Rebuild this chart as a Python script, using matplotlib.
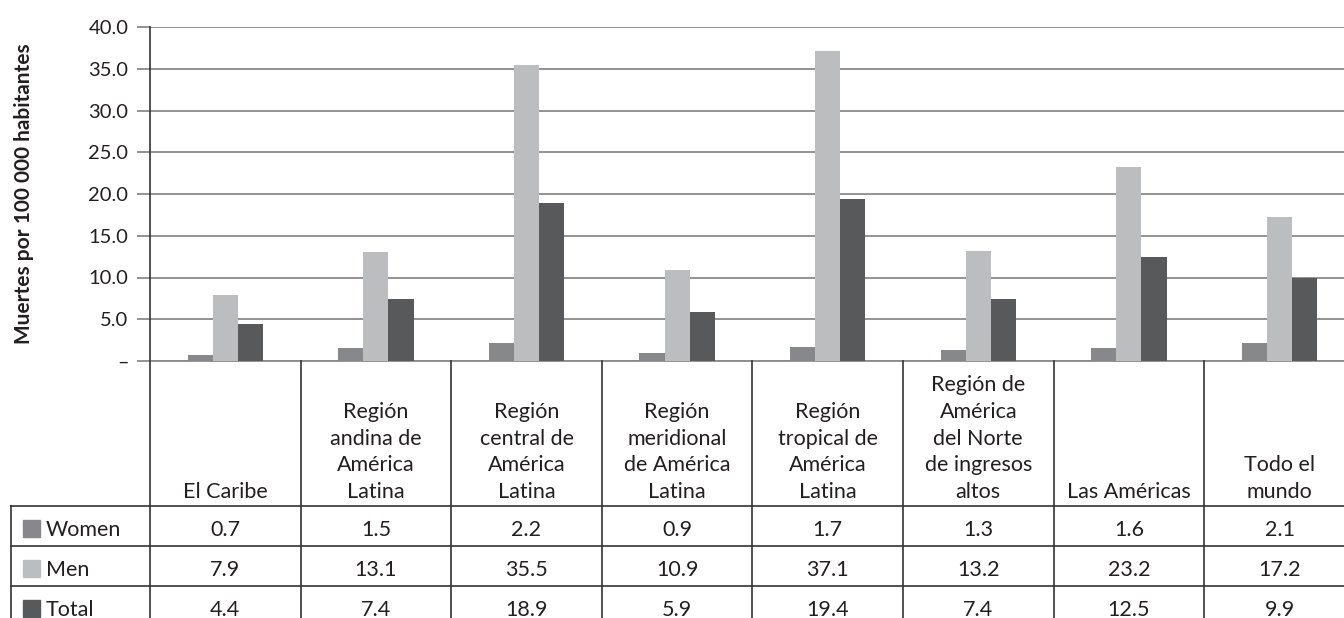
import numpy as np
import matplotlib
matplotlib.use('Agg')
import matplotlib.pyplot as plt
from matplotlib.patches import Rectangle

plt.rcParams['font.family'] = ['Lato', 'DejaVu Sans']

# data
regions = ['El Caribe',
           'Región\nandina de\nAmérica\nLatina',
           'Región\ncentral de\nAmérica\nLatina',
           'Región\nmeridional\nde América\nLatina',
           'Región\ntropical de\nAmérica\nLatina',
           'Región de\nAmérica\ndel Norte\nde ingresos\naltos',
           'Las Américas',
           'Todo el\nmundo']
series = ['Women', 'Men', 'Total']
women = [0.7, 1.5, 2.2, 0.9, 1.7, 1.3, 1.6, 2.1]
men = [7.9, 13.1, 35.5, 10.9, 37.1, 13.2, 23.2, 17.2]
total = [4.4, 7.4, 18.9, 5.9, 19.4, 7.4, 12.5, 9.9]
yticks = [0, 5, 10, 15, 20, 25, 30, 35, 40]

colors = ['#87888c', '#bcbdbf', '#58595b']
TXT = '#231f20'
W, H = 1344, 618
COLW = 150.6       # pixel width of one category column
X0 = 150           # pixel x of y axis
Y0 = 361           # pixel y of zero line
YTOP = 27
FS = 15.5

fig = plt.figure(figsize=(W / 100, H / 100), dpi=100)
ax = fig.add_axes([X0 / W, (H - Y0) / H, (W - X0) / W, (Y0 - YTOP) / H])
xmax = (W - X0) / COLW
ax.set_xlim(0, xmax)
ax.set_ylim(0, 40)

x = np.arange(len(regions)) + 0.5
bw = 1 / 6
for k, vals in enumerate([women, men, total]):
    ax.bar(x + (k - 1) * bw, vals, width=bw, color=colors[k], zorder=3)

ax.set_yticks(yticks)
ax.set_yticklabels(['–' if v == 0 else '%.1f' % v for v in yticks],
                   fontsize=14.5, color=TXT)
ax.yaxis.grid(True, color='#8a8a8a', lw=1.3, zorder=0)
ax.tick_params(axis='y', length=9.5, width=1.3, color='#8a8a8a', pad=6)
ax.set_xticks([])
for s in ['top', 'right']:
    ax.spines[s].set_visible(False)
ax.spines['left'].set_color('#333333')
ax.spines['left'].set_linewidth(1.2)
ax.spines['bottom'].set_color('#8a8a8a')
ax.spines['bottom'].set_linewidth(1.3)
fig.text(24 / W, 1 - 194 / H, 'Muertes por 100 000 habitantes', rotation=90,
         ha='center', va='center', fontsize=15, fontweight='bold', color=TXT)

# table below the chart (y in pixels from zero line, x in category units)
tb = fig.add_axes([X0 / W, 0, (W - X0) / W, (H - Y0) / H])
tb.set_xlim(0, xmax)
tb.set_ylim(H - Y0, 0)
tb.axis('off')

def px(p):
    return (p - X0) / COLW

lc = '#333333'
row_tops = [144.7, 184.7, 224.7]
for i in range(len(regions)):
    tb.plot([i, i], [0, H - Y0], color=lc, lw=1.2, clip_on=False)
    tb.text(x[i], 141, regions[i], ha='center', va='bottom', fontsize=FS,
            color=TXT, linespacing=1.42, multialignment='center')
tb.plot([px(11), px(11)], [row_tops[0], H - Y0], color=lc, lw=1.2, clip_on=False)
for yt in row_tops:
    tb.plot([px(11), xmax], [yt, yt], color=lc, lw=1.2, clip_on=False)

for k, vals in enumerate([women, men, total]):
    base = row_tops[k] + 30
    tb.add_patch(Rectangle((px(23), base - 15.5), 17 / COLW, 17,
                           color=colors[k], clip_on=False))
    tb.text(px(46), base, series[k], ha='left', va='baseline', fontsize=FS,
            color=TXT, clip_on=False)
    for i, v in enumerate(vals):
        tb.text(x[i], base, '%.1f' % v, ha='center', va='baseline',
                fontsize=FS, color=TXT)

fig.savefig('out.png', dpi=100)
